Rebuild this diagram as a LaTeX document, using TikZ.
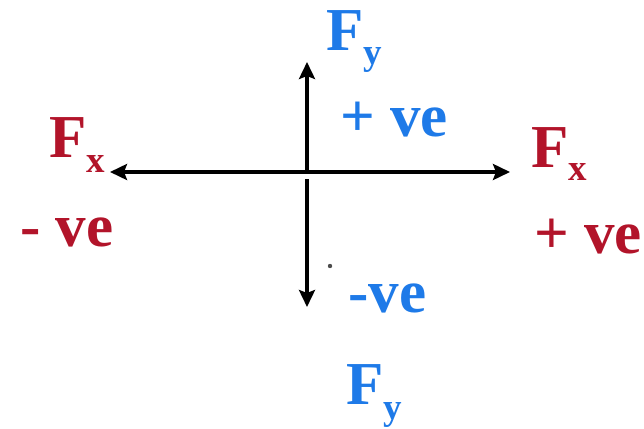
\documentclass[tikz,border=0pt]{standalone}
\usepackage{fontspec}
\setmainfont{Liberation Serif}
\usetikzlibrary{arrows.meta}
\definecolor{fred}{RGB}{178,20,42}
\definecolor{fblue}{RGB}{30,122,232}
\newcommand{\bigf}{\fontsize{61}{61}\selectfont\bfseries}
\newcommand{\subf}[2][14pt]{\raisebox{-#1}{\fontsize{37}{37}\selectfont\bfseries #2}}
\begin{document}
\begin{tikzpicture}[x=1pt,y=-1pt,
  lab/.style={inner sep=0pt,anchor=base west,font=\bigf},
  redlab/.style={lab,text=fred},
  bluelab/.style={lab,text=fblue},
  tip/.tip={Stealth[length=17pt,width=16pt,inset=3pt]},
  axis/.style={line width=4.5pt,draw=black}]
\useasboundingbox (0,0) rectangle (644,428);
% coordinates
\coordinate (o) at (307,172);
\coordinate (l) at (110,172);
\coordinate (r) at (510,172);
\coordinate (t) at (307,62);
\coordinate (c) at (307,179);
\coordinate (b) at (307,307);
% axes
\draw[axis,-tip] (o) -- (t);
\draw[axis,-tip] (c) -- (b);
\draw[axis,tip-tip] (l) -- (r);
% labels
\node[bluelab] (fyt) at (326,50) {F\subf[14pt]{y}};
\node[bluelab] (pvt) at (340,136) {+ ve};
\node[redlab] (fxl) at (49,157) {F\subf[15pt]{x}};
\node[redlab] (nvl) at (20,246) {- ve};
\node[redlab] (fxr) at (531,167) {F\subf[13pt]{x}};
\node[redlab] (pvr) at (534,253) {+ ve};
\node[bluelab] (nvb) at (348,312) {-ve};
\node[bluelab] (fyb) at (346,404) {F\subf[15pt]{y}};
% stray dot
\fill[black!70] (330,266) circle (2.2);
\end{tikzpicture}
\end{document}
